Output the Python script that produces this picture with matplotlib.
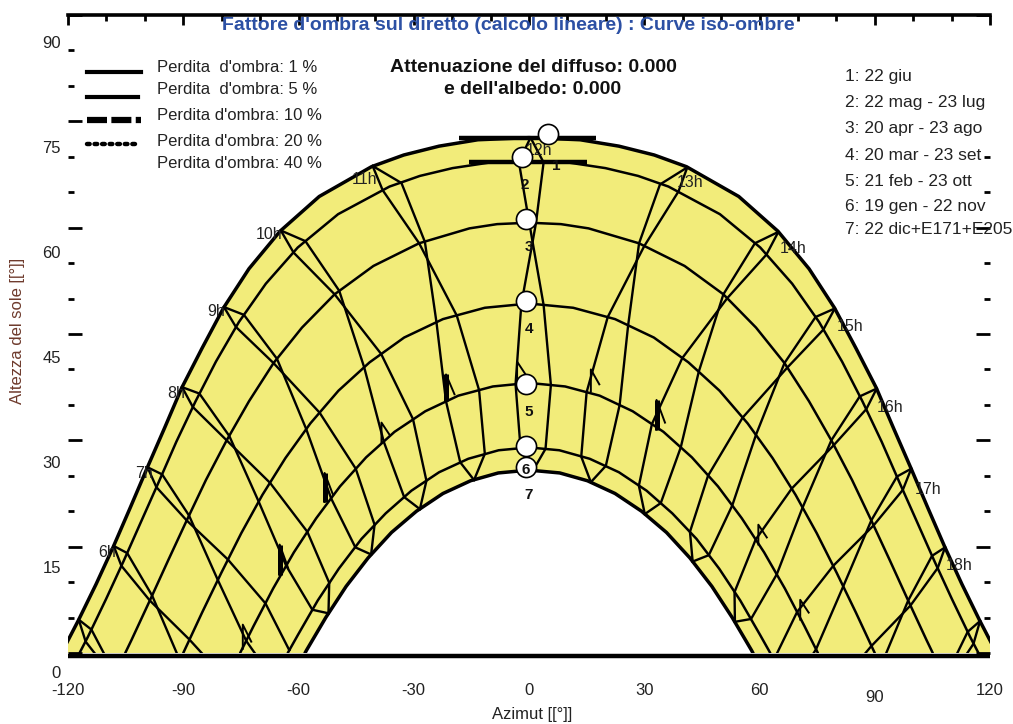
import numpy as np
import matplotlib
matplotlib.use("Agg")
import matplotlib.pyplot as plt
from matplotlib.lines import Line2D
from matplotlib.patches import Rectangle

plt.rcParams['font.family'] = ['Liberation Sans', 'DejaVu Sans']

# ---------------- data ----------------
title = "Fattore d'ombra sul diretto (calcolo lineare) : Curve iso-ombre"
att_lines = ["Attenuazione del diffuso: 0.000", "e dell'albedo: 0.000"]
loss_labels = ["Perdita  d'ombra: 1 %", "Perdita  d'ombra: 5 %", "Perdita d'ombra: 10 %",
               "Perdita d'ombra: 20 %", "Perdita d'ombra: 40 %"]
date_labels = ["1: 22 giu", "2: 22 mag - 23 lug", "3: 20 apr - 23 ago", "4: 20 mar - 23 set",
               "5: 21 feb - 23 ott", "6: 19 gen - 22 nov", "7: 22 dic+E171+E205"]
x_ticks = [-120, -90, -60, -30, 0, 30, 60, 90, 120]
x_tick_labels = ["-120", "-90", "-60", "-30", "0", "30", "60", "90", "120"]
y_ticks = [0, 15, 30, 45, 60, 75, 90]
y_tick_labels = ["0", "15", "30", "45", "60", "75", "90"]

# sun paths (azimuth, height) for the 7 dates
c1_az = [-121.7, -117.3, -112.7, -108.2, -103.8, -99.4, -94.9, -90.4, -85.1, -79.5, -72.9, -64.8, -54.6,
         -41.0, -32.6, -23.4, -13.3, 0, 13.3, 23.4, 32.6, 41.0, 54.6, 64.8, 72.9, 79.5, 85.1, 90.4, 94.9,
         99.4, 103.8, 108.2, 112.7, 117.3, 121.7]
c1_el = [0, 4.6, 9.7, 15.0, 20.5, 26.1, 31.7, 37.4, 43.0, 48.7, 54.2, 59.5, 64.4, 68.6, 70.25, 71.5, 72.4,
         72.7, 72.4, 71.5, 70.25, 68.6, 64.4, 59.5, 54.2, 48.7, 43.0, 37.4, 31.7, 26.1, 20.5, 15.0, 9.7, 4.6, 0]
c2_az = [-117.0, -114.8, -110.1, -105.5, -101.0, -96.4, -91.8, -86.8, -81.5, -75.5, -68.5, -60.2, -49.7,
         -36.3, -28.4, -19.9, -10.1, 0, 10.1, 19.9, 28.4, 36.3, 49.7, 60.2, 68.5, 75.5, 81.5, 86.8, 91.8,
         96.4, 101.0, 105.5, 110.1, 114.8, 117.0]
c2_el = [0, 2.3, 7.6, 13.0, 18.5, 24.1, 29.8, 35.5, 41.1, 46.7, 52.1, 57.2, 61.9, 65.8, 67.3, 68.4, 69.2,
         69.4, 69.2, 68.4, 67.3, 65.8, 61.9, 57.2, 52.1, 46.7, 41.1, 35.5, 29.8, 24.1, 18.5, 13.0, 7.6, 2.3, 0]
c3_az = [-105.1, -103.5, -98.7, -93.9, -89.1, -84.1, -78.7, -72.9, -66.5, -59.1, -50.6, -40.5, -28.6, -15.5,
         -8.3, 0, 8.3, 15.5, 28.6, 40.5, 50.6, 59.1, 66.5, 72.9, 78.7, 84.1, 89.1, 93.9, 98.7, 103.5, 105.1]
c3_el = [0, 1.8, 7.4, 13.1, 18.7, 24.4, 30.0, 35.5, 40.9, 45.9, 50.6, 54.6, 57.8, 59.9, 60.5, 60.7, 60.5,
         59.9, 57.8, 54.6, 50.6, 45.9, 40.9, 35.5, 30.0, 24.4, 18.7, 13.1, 7.4, 1.8, 0]
c4_az = [-90, -85.1, -80.1, -74.9, -69.4, -63.4, -56.9, -49.6, -41.5, -32.5, -22.4, -11.5, 0, 11.5, 22.4,
         32.5, 41.5, 49.6, 56.9, 63.4, 69.4, 74.9, 80.1, 85.1, 90]
c4_el = [0, 5.7, 11.3, 16.9, 22.3, 27.5, 32.4, 37.0, 41.0, 44.5, 47.1, 48.7, 49.3, 48.7, 47.1, 44.5, 41.0,
         37.0, 32.4, 27.5, 22.3, 16.9, 11.3, 5.7, 0]
c5_az = [-75.2, -71.7, -66.6, -61.2, -55.4, -49.2, -42.4, -35.0, -27.0, -18.4, -9.4, 0, 9.4, 18.4, 27.0,
         35.0, 42.4, 49.2, 55.4, 61.2, 66.6, 71.7, 75.2]
c5_el = [0, 3.8, 9.1, 14.2, 19.0, 23.5, 27.6, 31.2, 34.1, 36.3, 37.6, 38.1, 37.6, 36.3, 34.1, 31.2, 27.6,
         23.5, 19.0, 14.2, 9.1, 3.8, 0]
c6_az = [-62.8, -60.1, -55.0, -49.5, -43.6, -37.3, -30.6, -23.4, -15.8, -7.9, 0, 7.9, 15.8, 23.4, 30.6,
         37.3, 43.6, 49.5, 55.0, 60.1, 62.8]
c6_el = [0, 2.6, 7.4, 11.9, 16.1, 19.7, 22.9, 25.5, 27.4, 28.6, 29.0, 28.6, 27.4, 25.5, 22.9, 19.7, 16.1,
         11.9, 7.4, 2.6, 0]
c7_az = [-58.3, -57.9, -52.9, -47.6, -41.9, -35.8, -29.3, -22.4, -15.2, -8.0, 0, 8.0, 15.2, 22.4, 29.3,
         35.8, 41.9, 47.6, 52.9, 57.9, 58.3]
c7_el = [0, 0.4, 5.0, 9.4, 13.4, 17.0, 20.0, 22.5, 24.3, 25.4, 25.8, 25.4, 24.3, 22.5, 20.0, 17.0, 13.4,
         9.4, 5.0, 0.4, 0]

# hour lines (legal time): first half of year and second half of year
hours = [5, 6, 7, 8, 9, 10, 11, 12, 13, 14, 15, 16, 17, 18, 19]
hour_a_az = [
    [-117.2, -113.9, -110.7],
    [-108.1, -104.6, -98.1, -91.7],
    [-99.3, -95.5, -88.5, -81.0, -73.6, -71.4],
    [-90.3, -85.8, -78.0, -70.4, -63.2, -56.4, -52.2],
    [-79.4, -74.2, -65.6, -58.0, -51.5, -45.2, -41.1],
    [-64.6, -58.2, -49.4, -42.9, -37.8, -32.5, -28.4],
    [-40.7, -33.2, -27.1, -24.1, -21.6, -17.9, -14.3],
    [0.4, 3.8, 1.8, -2.0, -3.5, -2.2, 1.0],
    [41.2, 38.9, 30.0, 20.5, 15.0, 13.6, 16.1],
    [64.9, 61.8, 51.6, 39.9, 32.0, 28.6, 30.15],
    [79.6, 76.6, 67.3, 55.6, 46.6, 41.9, 42.6],
    [90.5, 87.8, 79.3, 68.4, 59.0, 53.5, 53.6],
    [99.5, 97.3, 89.7, 79.2, 69.8, 64.6],
    [108.3, 106.4, 99.3, 89.15, 87.6],
    [117.4, 115.7, 114.1],
]
hour_a_el = [
    [4.7, 3.3, 0],
    [15.1, 14.1, 8.1, 0],
    [26.2, 25.2, 19.4, 10.3, 1.7, 0],
    [37.5, 36.6, 30.6, 21.4, 12.3, 6.1, 5.6],
    [48.8, 47.7, 41.5, 31.6, 21.8, 14.9, 13.9],
    [59.6, 58.1, 51.1, 40.3, 29.8, 22.0, 20.3],
    [68.7, 66.3, 58.0, 46.7, 35.5, 26.9, 24.4],
    [72.7, 69.2, 60.6, 49.2, 37.9, 28.9, 25.7],
    [68.5, 65.1, 57.4, 47.4, 36.8, 27.7, 24.1],
    [59.4, 56.2, 50.05, 41.6, 32.3, 23.6, 19.6],
    [48.6, 45.6, 40.3, 33.2, 25.0, 17.1, 12.9],
    [37.3, 34.4, 29.3, 23.2, 16.0, 8.6, 4.4],
    [26.0, 23.0, 18.0, 12.3, 5.8, 0],
    [14.9, 12.0, 6.7, 1.0, 0],
    [4.5, 1.3, 0],
]
hour_b_az = [
    [-117.2, -115.4, -113.1],
    [-108.1, -106.1, -98.7, -88.4, -85.2],
    [-99.3, -97.0, -89.1, -78.4, -68.6, -62.4],
    [-90.3, -87.5, -78.7, -67.4, -57.7, -52.0, -52.2],
    [-79.4, -76.3, -66.5, -54.5, -45.1, -40.2, -41.1],
    [-64.6, -61.3, -50.6, -38.5, -30.2, -26.7, -28.4],
    [-40.7, -38.1, -28.6, -18.8, -13.0, -11.5, -14.3],
    [0.4, -2.65, 0.06, 3.8, 5.7, 4.3, 1.0],
    [41.2, 34.1, 28.65, 25.8, 23.6, 20.0, 16.1],
    [64.9, 58.8, 50.6, 44.2, 39.5, 34.3, 30.15],
    [79.6, 74.6, 66.5, 59.1, 52.9, 46.8, 42.6],
    [90.5, 86.1, 78.7, 71.2, 64.5, 57.8, 53.6],
    [99.5, 95.8, 89.1, 81.8, 74.7, 74.1],
    [108.3, 104.9, 98.7, 93.0],
    [117.4, 114.2, 111.5],
]
hour_b_el = [
    [4.7, 1.6, 0],
    [15.1, 12.3, 7.4, 1.9, 0],
    [26.2, 23.4, 18.7, 13.2, 7.0, 0.4],
    [37.5, 34.7, 30.0, 24.0, 17.1, 9.9, 5.6],
    [48.8, 46.0, 40.9, 33.9, 26.0, 18.1, 13.9],
    [59.6, 56.5, 50.6, 42.2, 33.0, 24.3, 20.3],
    [68.7, 65.3, 57.8, 47.6, 37.1, 28.1, 24.4],
    [72.7, 69.3, 60.7, 49.1, 37.8, 28.8, 25.7],
    [68.5, 66.1, 57.8, 46.2, 35.0, 26.4, 24.1],
    [59.4, 57.8, 50.6, 39.7, 29.0, 21.15, 19.6],
    [48.6, 47.4, 40.9, 30.8, 20.8, 13.8, 12.9],
    [37.3, 36.2, 30.0, 20.5, 11.1, 4.8, 4.4],
    [26.0, 24.9, 18.7, 9.4, 0.5, 0],
    [14.9, 13.7, 7.4, 0],
    [4.5, 3.0, 0],
]
hour_label_hours = [6, 7, 8, 9, 10, 11, 12, 13, 14, 15, 16, 17, 18]

# iso-shade marks (azimuth, bottom height, top height, heavy)
mark_az = [-21.6, -3.1, 16.1, 33.2, -38.4, -53.2, -64.9, -74.5, 59.7, 70.6]
mark_lo = [35.5, 38.3, 36.9, 31.5, 29.7, 21.3, 11.0, 0.6, 15.3, 4.7]
mark_hi = [39.3, 41.1, 40.0, 35.7, 32.5, 25.4, 15.3, 4.0, 18.1, 7.5]
mark_heavy = [True, False, False, True, False, True, True, False, False, False]
# thick iso-shade segments near the top
seg_az0 = [-18.2, -15.6]
seg_az1 = [17.4, 15.2]
seg_el = [72.6, 69.3]

# date markers
circle_az = [4.9, -1.8, -0.8, -0.8, -0.8, -0.8, -0.8]
circle_el = [73.2, 69.9, 61.2, 49.6, 38.0, 29.2, 26.2]
circle_txt = ["1", "2", "3", "4", "5", "6", "7"]

# ---------------- figure ----------------
W, H = 1013, 724
fig = plt.figure(figsize=(W / 100, H / 100), dpi=100)


def fx(px):
    return px / W


def fy(py):
    return 1 - py / H


ax = fig.add_axes([fx(68), fy(653), (990 - 68) / W, (653 - 15) / H])
ax.set_xlim(-120, 120)
ax.set_ylim(0, 90)

yellow = '#f2ec7a'
fill_x = list(c1_az) + list(c7_az)[::-1]
fill_y = list(c1_el) + list(c7_el)[::-1]
ax.fill(fill_x, fill_y, color=yellow, lw=0, zorder=1)

curves = [(c1_az, c1_el), (c2_az, c2_el), (c3_az, c3_el), (c4_az, c4_el),
          (c5_az, c5_el), (c6_az, c6_el), (c7_az, c7_el)]
for i, (cx, cy) in enumerate(curves):
    lw = 2.5 if i in (0, 6) else 1.8
    ax.plot(cx, cy, color='black', lw=lw, zorder=3, solid_joinstyle='round', solid_capstyle='round')

for xa, ya in zip(hour_a_az, hour_a_el):
    ax.plot(xa, ya, color='black', lw=1.7, zorder=3, solid_joinstyle='round')
for xb, yb in zip(hour_b_az, hour_b_el):
    ax.plot(xb, yb, color='black', lw=1.7, zorder=3, solid_joinstyle='round')

for a0, a1, e in zip(seg_az0, seg_az1, seg_el):
    ax.plot([a0, a1], [e, e], color='black', lw=3.2, zorder=4, solid_capstyle='butt')

for a, lo, hi, heavy in zip(mark_az, mark_lo, mark_hi, mark_heavy):
    ax.plot([a, a, a + 2.2], [lo, hi, lo + 1.0], color='black', lw=1.4, zorder=4)
    if heavy:
        ax.plot([a, a], [lo, hi], color='black', lw=3.6, zorder=4, solid_capstyle='butt')

# horizon line
ax.plot([-120, 120], [-0.45, -0.45], color='black', lw=3.2, zorder=5, clip_on=False,
        solid_capstyle='butt')

# hour labels (placed from hour points on 22 giu path)
lab_off = {6: (-7, 7), 7: (-4, 6), 8: (-6, 6), 9: (-8, 4), 10: (-12, 4), 11: (-8, 14),
           12: (8, 13), 13: (3, 15), 14: (15, 17), 15: (15, 18), 16: (13, 19), 17: (17, 21), 18: (14, 18)}
for hr in hour_label_hours:
    k = hours.index(hr)
    px0, py0 = hour_a_az[k][0], hour_a_el[k][0]
    dx, dy = lab_off[hr]
    ax.annotate(f"{hr}h", xy=(px0, py0), xytext=(dx * 0.72, -dy * 0.72), textcoords='offset points',
                ha='center', va='center', fontsize=11.5, color='#222222', zorder=6)

# date circles
ax.plot(circle_az, circle_el, ls='none', marker='o', ms=14.5, mfc='white', mec='black', mew=1.2,
        zorder=7, clip_on=False)
num_off = {"1": (8, 32), "6": (0, 24)}
for a, e, t in zip(circle_az, circle_el, circle_txt):
    dx, dy = num_off.get(t, (3, 28))
    ax.annotate(t, xy=(a, e), xytext=(dx * 0.72, -dy * 0.72), textcoords='offset points',
                ha='center', va='center', fontsize=11, fontweight='bold', color='#111111', zorder=8)

# axes styling
for s in ['left', 'right', 'bottom']:
    ax.spines[s].set_visible(False)
ax.spines['top'].set_linewidth(2.6)
ax.set_xticks(x_ticks)
ax.set_xticklabels([])
ax.set_xticks(np.arange(-120, 121, 10), minor=True)
ax.set_yticks(y_ticks)
ax.set_yticklabels([])
ax.set_yticks(np.arange(0, 91, 5), minor=True)
ax.tick_params(axis='x', which='both', bottom=False, top=True, direction='in', width=2)
ax.tick_params(axis='x', which='major', length=7)
ax.tick_params(axis='x', which='minor', length=4.5)
ax.tick_params(axis='y', which='both', left=True, right=True, direction='in', width=2)
ax.tick_params(axis='y', which='major', length=10)
ax.tick_params(axis='y', which='minor', length=4.5)

for v, lab in zip(x_ticks, x_tick_labels):
    dy = -27 if lab != "90" else -32
    ax.annotate(lab, xy=(v, 0), xycoords=('data', 'axes fraction'), xytext=(0, dy),
                textcoords='offset points', ha='center', va='center', fontsize=12, color='#222222',
                annotation_clip=False)
for v, lab in zip(y_ticks, y_tick_labels):
    dpx = 21 + 7 * v / 90
    ax.annotate(lab, xy=(0, v), xycoords=('axes fraction', 'data'), xytext=(-5, -dpx * 0.72),
                textcoords='offset points', ha='right', va='center', fontsize=12, color='#222222',
                annotation_clip=False)

# white box hiding the right ticks behind the date list
fig.add_artist(Rectangle((fx(972), fy(140)), 25 / W, 100 / H, transform=fig.transFigure,
                         facecolor='white', edgecolor='none', zorder=10))

# texts
fig.text(fx(508), fy(25), title, ha='center', va='center', fontsize=14, fontweight='bold',
         color='#2c50a4', zorder=11)
fig.text(fx(533), fy(67), att_lines[0], ha='center', va='center', fontsize=14, fontweight='bold',
         color='#111111')
fig.text(fx(533), fy(89), att_lines[1], ha='center', va='center', fontsize=14, fontweight='bold',
         color='#111111')
fig.text(fx(532), fy(714), "Azimut [[°]]", ha='center', va='center', fontsize=12, color='#222222')
fig.text(fx(18), fy(331), "Altezza del sole [[°]]", ha='center', va='center', rotation=90,
         fontsize=12, color='#6e3a2c')

loss_y = [67, 90, 116, 141, 163]
for t, yy in zip(loss_labels, loss_y):
    fig.text(fx(157), fy(yy), t, ha='left', va='center', fontsize=12, color='#222222', zorder=11)
date_y = [77, 103, 129, 155, 181, 207, 230]
for t, yy in zip(date_labels, date_y):
    fig.text(fx(845), fy(yy), t, ha='left', va='center', fontsize=12.5, color='#222222', zorder=11)

# legend line samples
styles = [dict(ls='-', lw=3.0, x1=141, y=72), dict(ls='-', lw=3.0, x1=138, y=97),
          dict(ls=(0, (3.2, 0.7)), lw=4.5, x1=141, y=120), dict(ls=(0, (0.6, 1.1)), lw=3.2, x1=139, y=144)]
for st in styles:
    ln = Line2D([fx(87), fx(st['x1'])], [fy(st['y']), fy(st['y'])], transform=fig.transFigure,
                color='black', lw=st['lw'], linestyle=st['ls'], zorder=11,
                dash_capstyle='round' if st['lw'] < 4 and st['ls'] != '-' else 'butt')
    fig.add_artist(ln)

fig.savefig('out.png', dpi=100)
